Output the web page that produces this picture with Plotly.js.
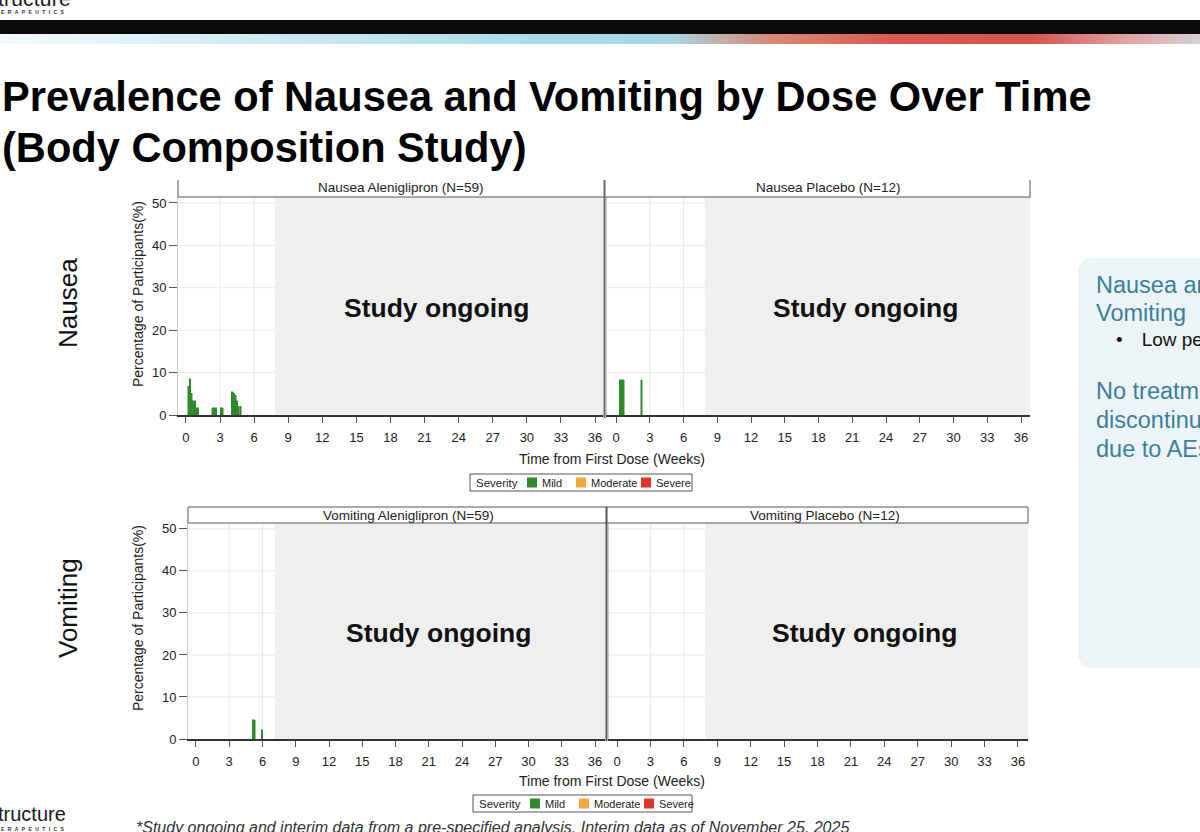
<!DOCTYPE html>
<html>
<head>
<meta charset="utf-8">
<script src="https://cdn.plot.ly/plotly-3.0.1.min.js"></script>
<style>
  html, body { margin: 0; padding: 0; background: #fff; }
  #slide { position: relative; width: 1200px; height: 832px; overflow: hidden; background: #fff;
           font-family: 'Liberation Sans', Arial, Helvetica, sans-serif; }
  .abs { position: absolute; }
  #plot { position: absolute; left: 0; top: 0; width: 1200px; height: 832px; }
</style>
</head>
<body>
<div id="slide">
  <!-- top logo (cut off) -->
  <div class="abs" style="left:-2px;top:-13px;font-size:21px;color:#1a1a1a;letter-spacing:0.2px;">tructure</div>
  <div class="abs" style="left:1px;top:9px;font-size:5px;color:#333;letter-spacing:3.4px;font-weight:bold;">ERAPEUTICS</div>
  <!-- header bars -->
  <div class="abs" style="left:0;top:20px;width:1200px;height:14px;background:#0b0b0b;"></div>
  <div class="abs" style="left:0;top:34px;width:1200px;height:10px;
       background:linear-gradient(90deg,#f3fafc 0%,#cdebf2 22%,#a9dce8 45%,#a9d6e2 56%,#d98a78 64%,#dc5a4c 74%,#d9534f 86%,#e3a3a3 94%,#d4d2d8 100%);"></div>
  <!-- title -->
  <div class="abs" style="left:2px;top:71px;font-weight:bold;font-size:41.6px;line-height:51px;color:#000;white-space:nowrap;">
    Prevalence of Nausea and Vomiting by Dose Over Time<br>(Body Composition Study)
  </div>
  <!-- side box -->
  <div class="abs" style="left:1078px;top:258px;width:160px;height:410px;background:#edf4f7;border-radius:14px;"></div>
  <div class="abs" style="left:1096px;top:271px;font-size:23.5px;line-height:28px;color:#3a7f9c;white-space:nowrap;">Nausea and<br>Vomiting</div>
  <div class="abs" style="left:1116px;top:328px;font-size:19px;line-height:24px;color:#111;white-space:nowrap;">&#8226;<span style="display:inline-block;width:19px"></span>Low percentage</div>
  <div class="abs" style="left:1096px;top:377px;font-size:23.5px;line-height:29px;color:#3a7f9c;white-space:nowrap;">No treatment<br>discontinuation<br>due to AEs</div>
  <!-- bottom logo + footnote -->
  <div class="abs" style="left:-2px;top:803px;font-size:20px;color:#1a1a1a;">tructure</div>
  <div class="abs" style="left:1px;top:826px;font-size:5px;color:#333;letter-spacing:3.4px;font-weight:bold;">ERAPEUTICS</div>
  <div class="abs" style="left:136px;top:819px;font-size:16px;font-style:italic;color:#333;white-space:nowrap;">*Study ongoing and interim data from a pre-specified analysis. Interim data as of November 25, 2025</div>

  <div id="plot"></div>
</div>

<script>
// ---------------- DATA ----------------
// Bars are daily prevalence, x = time from first dose in weeks (bar centre), y = % of participants
const severityLevels = ['Mild', 'Moderate', 'Severe'];
const severityColors = ['#2f8a2b', '#f2a93b', '#e5332a'];
const legendTitle = 'Severity';

const weekTicks = [0, 3, 6, 9, 12, 15, 18, 21, 24, 27, 30, 33, 36];
const pctTicks = [0, 10, 20, 30, 40, 50];

const panelTitles = ['Nausea Aleniglipron (N=59)', 'Nausea Placebo (N=12)',
                     'Vomiting Aleniglipron (N=59)', 'Vomiting Placebo (N=12)'];

// Nausea, Aleniglipron – Mild
const nauseaAlenWeeks = [0.21, 0.36, 0.50, 0.64, 0.79, 0.93, 1.07, 2.36, 2.50, 2.64, 3.07, 3.21, 4.07, 4.21, 4.36, 4.50, 4.64, 4.79];
const nauseaAlenMild  = [6.8,  8.5,  5.1,  3.4,  3.4,  1.7,  1.7,  1.7,  1.7,  1.7,  1.7,  1.7,  5.5,  5.1,  4.7,  3.4,  2.1,  2.1];
// Nausea, Placebo – Mild
const nauseaPboWeeks = [0.36, 0.50, 0.64, 2.26];
const nauseaPboMild  = [8.3,  8.3,  8.3,  8.3];
// Vomiting, Aleniglipron – Mild
const vomitAlenWeeks = [5.13, 5.27, 5.95];
const vomitAlenMild  = [4.6,  4.6,  2.2];
// Vomiting, Placebo – none
const vomitPboWeeks = [];
const vomitPboMild  = [];
// No moderate or severe events in any panel
const noEventWeeks = [0];
const noEventPct   = [0];

// week at which the "Study ongoing" shading begins in each panel
const ongoingFrom = [7.83, 7.9, 7.13, 7.9];

// ---------------- LAYOUT HELPERS ----------------
const W = 1200, H = 832;
const px = v => v / W;
const py = v => 1 - v / H;
const DAY = 1 / 7;

const panels = [
  { xa: 'x',  ya: 'y',  xd: [178, 603], yd: [197, 415], xr: [-0.70, 36.70], weeks: nauseaAlenWeeks, mild: nauseaAlenMild },
  { xa: 'x2', ya: 'y2', xd: [607, 1030], yd: [197, 415], xr: [-0.80, 36.80], weeks: nauseaPboWeeks, mild: nauseaPboMild },
  { xa: 'x3', ya: 'y3', xd: [188, 605], yd: [523, 739], xr: [-0.72, 36.90], weeks: vomitAlenWeeks, mild: vomitAlenMild },
  { xa: 'x4', ya: 'y4', xd: [609, 1028], yd: [523, 739], xr: [-0.72, 36.90], weeks: vomitPboWeeks, mild: vomitPboMild }
];
const YMAX = 51.4;

const traces = [];
panels.forEach((p) => {
  severityLevels.forEach((lvl, k) => {
    traces.push({
      type: 'bar',
      name: lvl,
      x: k === 0 ? p.weeks : noEventWeeks,
      y: k === 0 ? p.mild : noEventPct,
      width: DAY,
      xaxis: p.xa, yaxis: p.ya,
      marker: { color: severityColors[k], line: { color: severityColors[k], width: 0.5 } },
      showlegend: false,
      hovertemplate: lvl + ': %{y:.1f}% at week %{x:.2f}<extra></extra>'
    });
  });
});

const layout = {
  width: W, height: H,
  margin: { l: 0, r: 0, t: 0, b: 0 },
  paper_bgcolor: 'rgba(0,0,0,0)',
  plot_bgcolor: '#ffffff',
  barmode: 'stack',
  bargap: 0,
  showlegend: false,
  font: { family: "'Liberation Sans', Arial, sans-serif", color: '#222', size: 13 },
  shapes: [],
  annotations: []
};

const GRID = '#e9e9e9';
panels.forEach((p, i) => {
  const xk = i === 0 ? 'xaxis' : 'xaxis' + (i + 1);
  const yk = i === 0 ? 'yaxis' : 'yaxis' + (i + 1);
  const leftCol = (i % 2 === 0);
  layout[xk] = {
    domain: [px(p.xd[0]), px(p.xd[1])], anchor: p.ya, range: p.xr,
    tickmode: 'array', tickvals: weekTicks, ticktext: weekTicks.map(String),
    ticks: 'outside', ticklen: 6, tickcolor: '#555', tickwidth: 1,
    showline: true, linecolor: '#333', linewidth: 1.6,
    showgrid: false, zeroline: false, ticklabelstandoff: 4,
    tickfont: { size: 13, color: '#222' }, fixedrange: true
  };
  layout[yk] = {
    domain: [py(p.yd[1]), py(p.yd[0])], anchor: p.xa, range: [0, YMAX],
    tickmode: 'array', tickvals: pctTicks, ticktext: pctTicks.map(String),
    ticks: leftCol ? 'outside' : '', ticklen: 8, tickcolor: '#555',
    showticklabels: leftCol,
    showline: true, linecolor: '#c8c8c8', linewidth: 1,
    showgrid: false, zeroline: false,
    tickfont: { size: 13, color: '#222' }, fixedrange: true
  };
  // grid lines only in the observed (white) part of the panel
  weekTicks.filter(t => t > 0 && t < ongoingFrom[i]).forEach(t => {
    layout.shapes.push({ type: 'line', xref: p.xa, yref: p.ya, x0: t, x1: t, y0: 0, y1: YMAX,
      line: { color: GRID, width: 1 }, layer: 'below' });
  });
  pctTicks.filter(v => v > 0).forEach(v => {
    layout.shapes.push({ type: 'line', xref: p.xa, yref: p.ya, x0: p.xr[0], x1: ongoingFrom[i], y0: v, y1: v,
      line: { color: GRID, width: 1 }, layer: 'below' });
  });
  // "Study ongoing" shading
  layout.shapes.push({
    type: 'rect', xref: p.xa, yref: p.ya,
    x0: ongoingFrom[i], x1: p.xr[1], y0: 0, y1: YMAX,
    fillcolor: '#efefef', line: { width: 0 }, layer: 'below'
  });
  const shadeLeftPx = p.xd[0] + (ongoingFrom[i] - p.xr[0]) / (p.xr[1] - p.xr[0]) * (p.xd[1] - p.xd[0]);
  layout.annotations.push({
    xref: 'paper', yref: 'paper',
    x: px((shadeLeftPx + p.xd[1]) / 2 - 2),
    y: py((p.yd[0] + p.yd[1]) / 2 + 2),
    text: '<b>Study ongoing</b>', showarrow: false,
    font: { size: 26.5, color: '#111' }, xanchor: 'center', yanchor: 'middle'
  });
});

// strip headers
const LINE = { color: '#555', width: 1 };
function pline(x0, y0, x1, y1, line) {
  layout.shapes.push({ type: 'line', xref: 'paper', yref: 'paper', x0: px(x0), x1: px(x1), y0: py(y0), y1: py(y1), line: line || LINE });
}
// nausea strip (open on top)
pline(178, 180, 178, 197); pline(1030, 180, 1030, 197); pline(178, 197, 1030, 197);
// vomiting strip (closed box)
pline(188, 507, 1028, 507); pline(188, 523, 1028, 523); pline(188, 507, 188, 523); pline(1028, 507, 1028, 523);
[[0, 400, 188], [1, 828, 188], [2, 408, 515], [3, 825, 515]].forEach(([t, xc, yc]) => {
  layout.annotations.push({
    xref: 'paper', yref: 'paper', x: px(xc), y: py(yc),
    text: panelTitles[t], showarrow: false,
    font: { size: 13.5, color: '#222' }, xanchor: 'center', yanchor: 'middle'
  });
});
// separators between the two columns
pline(604.5, 418, 604.5, 180, { color: '#666', width: 2 });
pline(606.5, 741, 606.5, 507, { color: '#555', width: 2 });

// legends (Severity: Mild / Moderate / Severe)
function addLegend(x0, y0, x1, y1) {
  layout.shapes.push({ type: 'rect', xref: 'paper', yref: 'paper', x0: px(x0), x1: px(x1), y0: py(y1), y1: py(y0),
    fillcolor: '#ffffff', line: { color: '#555', width: 1 } });
  const yc = (y0 + y1) / 2;
  layout.annotations.push({ xref: 'paper', yref: 'paper', x: px(x0 + 4), y: py(yc), text: legendTitle,
    showarrow: false, xanchor: 'left', yanchor: 'middle', font: { size: 11.5, color: '#222' } });
  const sqOffsets = [57, 106, 171];
  severityLevels.forEach((lvl, k) => {
    const sx = x0 + sqOffsets[k];
    layout.shapes.push({ type: 'rect', xref: 'paper', yref: 'paper', x0: px(sx), x1: px(sx + 10), y0: py(yc + 5), y1: py(yc - 5),
      fillcolor: severityColors[k], line: { width: 0 } });
    layout.annotations.push({ xref: 'paper', yref: 'paper', x: px(sx + 13), y: py(yc), text: lvl,
      showarrow: false, xanchor: 'left', yanchor: 'middle', font: { size: 11, color: '#222' } });
  });
}
addLegend(470, 474, 692, 491);
addLegend(473, 795, 692, 812);

// row labels, axis titles
[['Nausea', 303], ['Vomiting', 608]].forEach(([t, yc]) => {
  layout.annotations.push({ xref: 'paper', yref: 'paper', x: px(68), y: py(yc), text: t, textangle: -90,
    showarrow: false, font: { size: 26, color: '#111' }, xanchor: 'center', yanchor: 'middle' });
});
[294, 618].forEach(yc => {
  layout.annotations.push({ xref: 'paper', yref: 'paper', x: px(138), y: py(yc), text: 'Percentage of Participants(%)', textangle: -90,
    showarrow: false, font: { size: 14, color: '#222' }, xanchor: 'center', yanchor: 'middle' });
});
[459, 781].forEach(yc => {
  layout.annotations.push({ xref: 'paper', yref: 'paper', x: px(612), y: py(yc), text: 'Time from First Dose (Weeks)',
    showarrow: false, font: { size: 14, color: '#222' }, xanchor: 'center', yanchor: 'middle' });
});

Plotly.newPlot('plot', traces, layout, { staticPlot: true, displayModeBar: false });
</script>
</body>
</html>
